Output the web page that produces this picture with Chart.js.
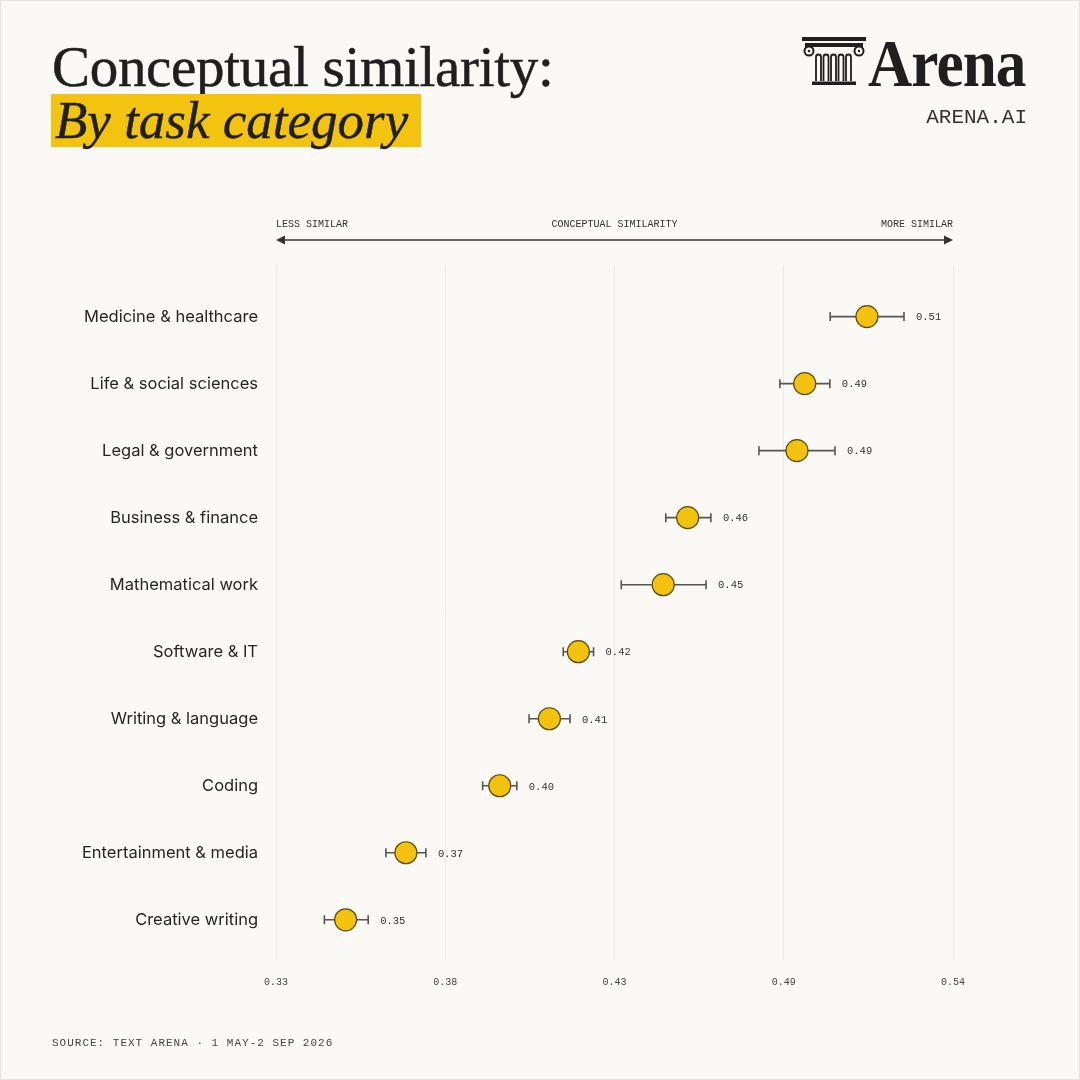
<!DOCTYPE html>
<html>
<head>
<meta charset="utf-8">
<script src="https://cdn.jsdelivr.net/npm/chart.js@4.4.1/dist/chart.umd.min.js"></script>
<style>
  html, body { margin: 0; padding: 0; }
  body { width: 1080px; height: 1080px; background: #faf9f6; position: relative; overflow: hidden; }
  .frame { position: absolute; left: 0; top: 0; width: 1078px; height: 1078px; border: 1px solid #e6e5e1; }
  #wrap { position: absolute; left: 0; top: 0; width: 1080px; height: 1080px; }
  .title { position: absolute; left: 52px; top: 38px; font-family: "Liberation Serif", serif; font-size: 57px; line-height: 57px; color: #1f1f1f; letter-spacing: -0.3px; white-space: nowrap; -webkit-text-stroke: 0.5px #1f1f1f; }
  .sub { position: absolute; left: 51px; top: 94px; width: 370px; height: 53px; background: #f2c40f; }
  .sub span { position: absolute; left: 4px; top: 0; font-family: "Liberation Serif", serif; font-style: italic; font-size: 53px; line-height: 53px; color: #1f1f1f; white-space: nowrap; -webkit-text-stroke: 0.4px #1f1f1f; }
  .logo { position: absolute; left: 802px; top: 37px; }
  .brand { position: absolute; left: 868px; top: 29px; font-family: "Liberation Serif", serif; font-weight: bold; font-size: 68px; line-height: 68px; color: #1f1f1f; transform: scaleX(0.9); transform-origin: left top; letter-spacing: -1px; }
  .site { position: absolute; right: 53px; top: 106px; font-family: "Liberation Mono", monospace; font-size: 21px; line-height: 24px; color: #333; }
  .source { position: absolute; left: 52px; top: 1035px; font-family: "Liberation Mono", monospace; font-size: 11px; line-height: 16px; letter-spacing: 1px; color: #444; white-space: nowrap; }
</style>
</head>
<body>
<div class="frame"></div>
<div id="wrap"><canvas id="chart"></canvas></div>

<div class="title">Conceptual similarity:</div>
<div class="sub"><span>By task category</span></div>

<svg class="logo" width="64" height="48" viewBox="0 0 64 48" fill="none" stroke="#1f1f1f">
  <rect x="0" y="0" width="64" height="4" fill="#1f1f1f" stroke="none"/>
  <rect x="3" y="6" width="58" height="4" fill="#1f1f1f" stroke="none"/>
  <circle cx="7" cy="14" r="4.5" stroke-width="2"/>
  <circle cx="57" cy="14" r="4.5" stroke-width="2"/>
  <circle cx="7" cy="14" r="1.2" fill="#1f1f1f" stroke="none"/>
  <circle cx="57" cy="14" r="1.2" fill="#1f1f1f" stroke="none"/>
  <path d="M14 44 V20 a2.5 2.5 0 0 1 5 0 V44" stroke-width="1.8"/>
  <path d="M21.5 44 V20 a2.5 2.5 0 0 1 5 0 V44" stroke-width="1.8"/>
  <path d="M29 44 V20 a2.5 2.5 0 0 1 5 0 V44" stroke-width="1.8"/>
  <path d="M36.5 44 V20 a2.5 2.5 0 0 1 5 0 V44" stroke-width="1.8"/>
  <path d="M44 44 V20 a2.5 2.5 0 0 1 5 0 V44" stroke-width="1.8"/>
  <rect x="10" y="44.5" width="44" height="3.5" fill="#1f1f1f" stroke="none"/>
</svg>
<div class="brand">Arena</div>
<div class="site">ARENA.AI</div>

<div class="source">SOURCE: TEXT ARENA · 1 MAY-2 SEP 2026</div>

<script>
// categories, top to bottom
const categories = [
  "Medicine & healthcare",
  "Life & social sciences",
  "Legal & government",
  "Business & finance",
  "Mathematical work",
  "Software & IT",
  "Writing & language",
  "Coding",
  "Entertainment & media",
  "Creative writing",
];

// mean conceptual similarity
const means = [0.5133, 0.4940, 0.4916, 0.4577, 0.4501, 0.4238, 0.4148, 0.3994, 0.3703, 0.3516];

// interval low / high
const lows  = [0.5019, 0.4863, 0.4798, 0.4509, 0.4371, 0.4191, 0.4085, 0.3941, 0.3641, 0.3450];
const highs = [0.5248, 0.5018, 0.5034, 0.4649, 0.4634, 0.4285, 0.4212, 0.4047, 0.3765, 0.3586];

// x axis ticks as shown
const xTickValues = [0.33, 0.3825, 0.435, 0.4875, 0.54];
const xTickLabels = ["0.33", "0.38", "0.43", "0.49", "0.54"];

const MONO = '"Liberation Mono", monospace';

// error bars + value labels
const errorBars = {
  id: "errorBars",
  beforeDatasetsDraw(chart) {
    const { ctx, scales: { x, y } } = chart;
    ctx.save();
    ctx.strokeStyle = "#555";
    ctx.lineWidth = 1.6;
    categories.forEach((_, i) => {
      const py = y.getPixelForValue(i);
      const x1 = x.getPixelForValue(lows[i]);
      const x2 = x.getPixelForValue(highs[i]);
      ctx.beginPath();
      ctx.moveTo(x1, py); ctx.lineTo(x2, py);
      ctx.moveTo(x1, py - 4.5); ctx.lineTo(x1, py + 4.5);
      ctx.moveTo(x2, py - 4.5); ctx.lineTo(x2, py + 4.5);
      ctx.stroke();

      ctx.fillStyle = "#333";
      ctx.font = `10.5px ${MONO}`;
      ctx.textAlign = "left";
      ctx.textBaseline = "middle";
      ctx.fillText(means[i].toFixed(2), x2 + 12, py + 1);
    });
    ctx.restore();
  },
};

// arrow header above the plot
const axisHeader = {
  id: "axisHeader",
  afterDraw(chart) {
    const { ctx, chartArea: { left, right, top } } = chart;
    const ay = top - 25;
    ctx.save();
    ctx.strokeStyle = "#333";
    ctx.fillStyle = "#333";
    ctx.lineWidth = 1.5;
    ctx.beginPath();
    ctx.moveTo(left + 4, ay); ctx.lineTo(right - 4, ay);
    ctx.stroke();
    ctx.beginPath();
    ctx.moveTo(left, ay); ctx.lineTo(left + 9, ay - 4.5); ctx.lineTo(left + 9, ay + 4.5);
    ctx.closePath(); ctx.fill();
    ctx.beginPath();
    ctx.moveTo(right, ay); ctx.lineTo(right - 9, ay - 4.5); ctx.lineTo(right - 9, ay + 4.5);
    ctx.closePath(); ctx.fill();

    ctx.font = `10px ${MONO}`;
    ctx.textBaseline = "middle";
    ctx.textAlign = "left";
    ctx.fillText("LESS SIMILAR", left, ay - 16);
    ctx.textAlign = "center";
    ctx.fillText("CONCEPTUAL SIMILARITY", (left + right) / 2, ay - 16);
    ctx.textAlign = "right";
    ctx.fillText("MORE SIMILAR", right, ay - 16);
    ctx.restore();
  },
};

new Chart(document.getElementById("chart"), {
  type: "scatter",
  data: {
    datasets: [{
      data: categories.map((c, i) => ({ x: means[i], y: i })),
      pointRadius: 11,
      pointHoverRadius: 11,
      backgroundColor: "#f2c20f",
      borderColor: "#5c480a",
      borderWidth: 1.2,
    }],
  },
  options: {
    responsive: true,
    maintainAspectRatio: false,
    animation: false,
    events: [],
    layout: { padding: { left: 0, right: 127, top: 265, bottom: 80 } },
    plugins: { legend: { display: false }, tooltip: { enabled: false } },
    scales: {
      x: {
        type: "linear",
        min: 0.33,
        max: 0.54,
        afterBuildTicks: (axis) => { axis.ticks = xTickValues.map((v) => ({ value: v })); },
        afterFit: (axis) => { axis.height = 40; },
        grid: { color: "#ebe9e4", lineWidth: 1, drawTicks: false },
        border: { display: false },
        ticks: {
          padding: 16,
          color: "#444",
          font: { family: MONO, size: 10 },
          callback: (v, i) => xTickLabels[i],
        },
      },
      y: {
        type: "linear",
        reverse: true,
        min: -0.77,
        max: 9.6,
        afterBuildTicks: (axis) => { axis.ticks = categories.map((_, i) => ({ value: i })); },
        afterFit: (axis) => { axis.width = 276; },
        grid: { display: false, drawTicks: false },
        border: { display: false },
        ticks: {
          padding: 18,
          color: "#262626",
          font: { family: "Inter", size: 16.5 },
          callback: (v, i) => categories[i],
        },
      },
    },
  },
  plugins: [errorBars, axisHeader],
});
</script>
</body>
</html>
